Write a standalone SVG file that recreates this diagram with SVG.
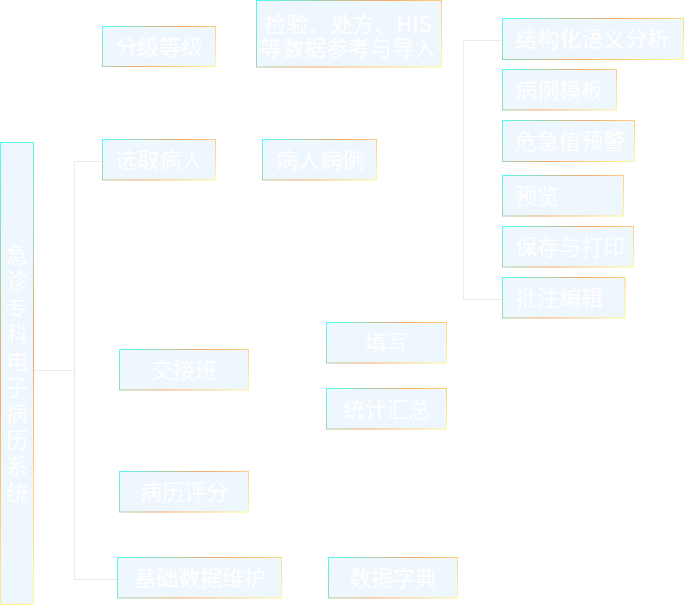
<svg xmlns="http://www.w3.org/2000/svg" xmlns:xlink="http://www.w3.org/1999/xlink" width="684" height="606" viewBox="0 0 684 606">
<style>
.box{fill:#eef6fe;stroke-width:1}
.t{font-family:"Noto Sans CJK SC","Noto Sans",sans-serif;font-size:22px;fill:#ffffff}
.c{text-anchor:middle}
.l{text-anchor:start}
.conn{fill:none;stroke:#ebebeb;stroke-width:1}
</style>
<defs>
<linearGradient id="g">
<stop offset="0" stop-color="#4cfff3"/>
<stop offset="0.5" stop-color="#f9a76a"/>
<stop offset="1" stop-color="#fffb96"/>
</linearGradient>
<linearGradient id="g0" href="#g" xlink:href="#g" gradientUnits="userSpaceOnUse" x1="0" y1="142" x2="248.5" y2="390.5"/>
<linearGradient id="g1" href="#g" xlink:href="#g" gradientUnits="userSpaceOnUse" x1="102" y1="26" x2="179.5" y2="103.5"/>
<linearGradient id="g2" href="#g" xlink:href="#g" gradientUnits="userSpaceOnUse" x1="256" y1="0" x2="382.5" y2="126.5"/>
<linearGradient id="g3" href="#g" xlink:href="#g" gradientUnits="userSpaceOnUse" x1="102" y1="139" x2="179.5" y2="216.5"/>
<linearGradient id="g4" href="#g" xlink:href="#g" gradientUnits="userSpaceOnUse" x1="262" y1="139" x2="340" y2="217"/>
<linearGradient id="g5" href="#g" xlink:href="#g" gradientUnits="userSpaceOnUse" x1="502" y1="18" x2="613.5" y2="129.5"/>
<linearGradient id="g6" href="#g" xlink:href="#g" gradientUnits="userSpaceOnUse" x1="502" y1="69" x2="580" y2="147"/>
<linearGradient id="g7" href="#g" xlink:href="#g" gradientUnits="userSpaceOnUse" x1="502" y1="120" x2="589" y2="207"/>
<linearGradient id="g8" href="#g" xlink:href="#g" gradientUnits="userSpaceOnUse" x1="502" y1="175" x2="583.5" y2="256.5"/>
<linearGradient id="g9" href="#g" xlink:href="#g" gradientUnits="userSpaceOnUse" x1="502" y1="226" x2="588.5" y2="312.5"/>
<linearGradient id="g10" href="#g" xlink:href="#g" gradientUnits="userSpaceOnUse" x1="502" y1="277" x2="584" y2="359"/>
<linearGradient id="g11" href="#g" xlink:href="#g" gradientUnits="userSpaceOnUse" x1="119" y1="349" x2="204.5" y2="434.5"/>
<linearGradient id="g12" href="#g" xlink:href="#g" gradientUnits="userSpaceOnUse" x1="326" y1="322" x2="407" y2="403"/>
<linearGradient id="g13" href="#g" xlink:href="#g" gradientUnits="userSpaceOnUse" x1="326" y1="388" x2="407" y2="469"/>
<linearGradient id="g14" href="#g" xlink:href="#g" gradientUnits="userSpaceOnUse" x1="119" y1="471" x2="204.5" y2="556.5"/>
<linearGradient id="g15" href="#g" xlink:href="#g" gradientUnits="userSpaceOnUse" x1="117" y1="557" x2="220" y2="660"/>
<linearGradient id="g16" href="#g" xlink:href="#g" gradientUnits="userSpaceOnUse" x1="328" y1="557" x2="413.5" y2="642.5"/>
</defs>

<g id="connectors">
<path class="conn" d="M34 370.5 H74.5"/>
<path class="conn" d="M102 161.5 H74.5 V579.5 H117"/>
<path class="conn" d="M502 40.5 H463.5 V299.5 H502"/>
</g>

<g id="node-main">
<rect class="box" x="0.5" y="142.5" width="33" height="462" stroke="url(#g0)"/>
<text class="t c" x="17"><tspan x="17" y="263">急</tspan><tspan x="17" dy="26.4">诊</tspan><tspan x="17" dy="26.4">专</tspan><tspan x="17" dy="26.4">科</tspan><tspan x="17" dy="26.4">电</tspan><tspan x="17" dy="26.4">子</tspan><tspan x="17" dy="26.4">病</tspan><tspan x="17" dy="26.4">历</tspan><tspan x="17" dy="26.4">系</tspan><tspan x="17" dy="26.4">统</tspan></text>
</g>

<g id="node-fenji">
<rect class="box" x="102.5" y="26.5" width="113" height="40" stroke="url(#g1)"/>
<text class="t c" x="159" y="55.2">分级等级</text>
</g>

<g id="node-jianyan">
<rect class="box" x="256.5" y="0.5" width="185" height="66.5" stroke="url(#g2)"/>
<text class="t c" x="348" y="31.6">检验、处方、HIS</text>
<text class="t c" x="348" y="55.7">等数据参考与导入</text>
</g>

<g id="node-xuanqu">
<rect class="box" x="102.5" y="139.5" width="113" height="40.5" stroke="url(#g3)"/>
<text class="t c" x="159" y="168.2">选取病人</text>
</g>

<g id="node-bingren">
<rect class="box" x="262.5" y="139.5" width="114" height="40.5" stroke="url(#g4)"/>
<text class="t c" x="320" y="168.2">病人病例</text>
</g>

<g id="node-jiegou">
<rect class="box" x="502.5" y="18.5" width="181" height="41" stroke="url(#g5)"/>
<text class="t l" x="515" y="47.4">结构化语义分析</text>
</g>

<g id="node-muban">
<rect class="box" x="502.5" y="69.5" width="114" height="40.5" stroke="url(#g6)"/>
<text class="t l" x="515" y="98.2">病例模板</text>
</g>

<g id="node-weiji">
<rect class="box" x="502.5" y="120.5" width="132" height="41" stroke="url(#g7)"/>
<text class="t l" x="515" y="149.4">危急值预警</text>
</g>

<g id="node-yulan">
<rect class="box" x="502.5" y="175.5" width="121" height="40.5" stroke="url(#g8)"/>
<text class="t l" x="515" y="204.2">预览</text>
</g>

<g id="node-baocun">
<rect class="box" x="502.5" y="226.5" width="131" height="40.5" stroke="url(#g9)"/>
<text class="t l" x="515" y="255.2">保存与打印</text>
</g>

<g id="node-pizhu">
<rect class="box" x="502.5" y="277.5" width="122.5" height="40.5" stroke="url(#g10)"/>
<text class="t l" x="515" y="306.2">批注编辑</text>
</g>

<g id="node-jiaojieban">
<rect class="box" x="119.5" y="349.5" width="129" height="40.5" stroke="url(#g11)"/>
<text class="t c" x="184" y="378.2">交接班</text>
</g>

<g id="node-tianxie">
<rect class="box" x="326.5" y="322.5" width="120" height="40.5" stroke="url(#g12)"/>
<text class="t c" x="386.5" y="351.2">填写</text>
</g>

<g id="node-tongji">
<rect class="box" x="326.5" y="388.5" width="120" height="40.5" stroke="url(#g13)"/>
<text class="t c" x="386.5" y="417.2">统计汇总</text>
</g>

<g id="node-pingfen">
<rect class="box" x="119.5" y="471.5" width="129" height="40.5" stroke="url(#g14)"/>
<text class="t c" x="184" y="500.2">病历评分</text>
</g>

<g id="node-jichu">
<rect class="box" x="117.5" y="557.5" width="164" height="40.5" stroke="url(#g15)"/>
<text class="t c" x="200" y="586.2">基础数据维护</text>
</g>

<g id="node-zidian">
<rect class="box" x="328.5" y="557.5" width="129" height="40.5" stroke="url(#g16)"/>
<text class="t c" x="393" y="586.2">数据字典</text>
</g>
</svg>
